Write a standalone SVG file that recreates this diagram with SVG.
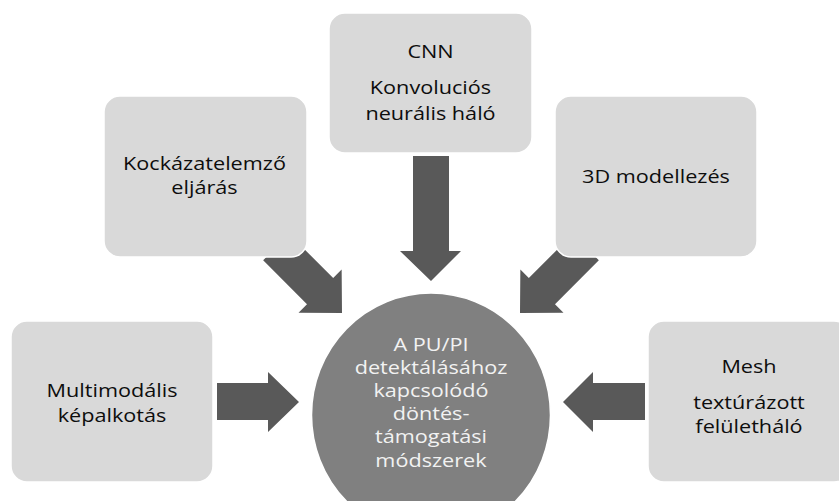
<svg xmlns="http://www.w3.org/2000/svg" width="839" height="501" viewBox="0 0 839 501">
<style>
.box{fill:#d9d9d9;stroke:#ffffff;stroke-width:1.5}
.arr{fill:#595959}
.t{font-family:"Open Sans","Noto Sans","Liberation Sans",sans-serif;font-size:19px;fill:#0d0d0d;text-anchor:middle}
.w{fill:#f2f2f2}
</style>
<defs>
<polygon id="ar" points="0,0 -31,-30.5 -31,-18.5 -93,-18.5 -93,18.5 -31,18.5 -31,30.5"/>
</defs>
<rect width="839" height="501" fill="#ffffff"/>
<g id="connectors" class="arr">
<use href="#ar" transform="translate(342,313) rotate(45)"/>
<use href="#ar" transform="translate(520,313) rotate(135)"/>
<polygon points="413,156 449,156 449,251 461,251 431,281 400,251 413,251"/>
<polygon points="217,383 268,383 268,372 299,402 268,432 268,420 217,420"/>
<polygon points="645,383 593,383 593,372 563,402 593,432 593,420 645,420"/>
</g>
<g id="n-cnn">
<rect class="box" x="329" y="13" width="203" height="140" rx="16"/>
<text class="t" transform="matrix(1.14 0 0 1 430.5 0)" y="58">CNN</text>
<text class="t" transform="matrix(1.14 0 0 1 430.5 0)" y="94">Konvoluciós</text>
<text class="t" transform="matrix(1.14 0 0 1 430.5 0)" y="120">neurális háló</text>
</g>
<g id="n-kock">
<rect class="box" x="104" y="96" width="203" height="161" rx="16"/>
<text class="t" transform="matrix(1.14 0 0 1 204.5 0)" y="170">Kockázatelemző</text>
<text class="t" transform="matrix(1.14 0 0 1 204.5 0)" y="194">eljárás</text>
</g>
<g id="n-3d">
<rect class="box" x="555" y="96" width="202" height="161" rx="16"/>
<text class="t" transform="matrix(1.14 0 0 1 656 0)" y="183">3D modellezés</text>
</g>
<g id="n-multi">
<rect class="box" x="11" y="321" width="202" height="161" rx="16"/>
<text class="t" transform="matrix(1.14 0 0 1 112 0)" y="397">Multimodális</text>
<text class="t" transform="matrix(1.14 0 0 1 112 0)" y="422">képalkotás</text>
</g>
<g id="n-mesh">
<rect class="box" x="648" y="321" width="202" height="161" rx="16"/>
<text class="t" transform="matrix(1.14 0 0 1 749 0)" y="373">Mesh</text>
<text class="t" transform="matrix(1.14 0 0 1 749 0)" y="409">textúrázott</text>
<text class="t" transform="matrix(1.14 0 0 1 749 0)" y="433">felületháló</text>
</g>
<g id="n-center">
<ellipse cx="431" cy="415" rx="119.5" ry="122" fill="#808080" stroke="#ffffff" stroke-width="1.5"/>
<text class="t w" transform="matrix(1.14 0 0 1 431 0)" y="351">A PU/PI</text>
<text class="t w" transform="matrix(1.14 0 0 1 431 0)" y="374">detektálásához</text>
<text class="t w" transform="matrix(1.14 0 0 1 431 0)" y="397">kapcsolódó</text>
<text class="t w" transform="matrix(1.14 0 0 1 431 0)" y="420">döntés-</text>
<text class="t w" transform="matrix(1.14 0 0 1 431 0)" y="443">támogatási</text>
<text class="t w" transform="matrix(1.14 0 0 1 431 0)" y="467">módszerek</text>
</g>
</svg>
